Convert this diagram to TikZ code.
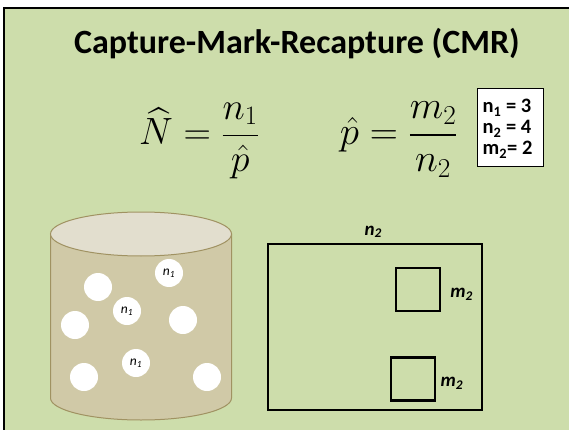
\RequirePackage{fix-cm}
\documentclass[tikz,border=0pt]{standalone}
\usepackage[no-math]{fontspec}
\setmainfont{Carlito}
\usepackage{amsmath,amssymb}
\usepackage{xcolor}
\usepackage{tikz}
\usetikzlibrary{positioning}
\definecolor{panelgreen}{RGB}{205,221,171}
\definecolor{barrelside}{RGB}{208,201,167}
\definecolor{barreltop}{RGB}{226,222,206}
\definecolor{barrelline}{RGB}{160,146,98}
\tikzset{
  rim/.style={draw=black,line width=2pt,line join=miter},
  heading/.style={font=\fontsize{34}{40}\selectfont\bfseries,text=black},
  formula/.style={inner sep=0pt},
  tally/.style={draw=black,fill=white,line width=0.9pt,minimum width=66pt,minimum height=78pt},
  tallyline/.style={font=\fontsize{20.5}{21}\selectfont\bfseries,inner sep=0pt,anchor=base west},
  barrel/.style={draw=barrelline,line width=1pt},
  ball/.style={circle,fill=white,minimum size=28pt,inner sep=0pt,
    font=\fontsize{13.5}{15}\selectfont\itshape},
  sample/.style={draw=black,line width=2.2pt,minimum width=214pt,minimum height=166pt},
  quadrat/.style={draw=black,line width=2.2pt,minimum width=44pt,minimum height=43pt},
  tag/.style={font=\fontsize{19}{21}\selectfont\bfseries\itshape,inner sep=2pt}
}
\begin{document}
\begin{tikzpicture}[x=1pt,y=-1pt]
  \useasboundingbox (0,0) rectangle (569,430);
  \fill[white] (0,0) rectangle (569,430);
  \fill[panelgreen] (4,8) rectangle (569,430);
  \draw[rim] (4,430) -- (4,8) -- (569,8);
  % title and formulas
  \node[heading,anchor=base] (title) at (297,53.3) {Capture-Mark-Recapture (CMR)};
  \node[formula,font=\fontsize{38}{43}\selectfont,anchor=base west] (nhat) at (139,145)
    {$\displaystyle \widehat{N}=\frac{n_1}{\hat{p}}$};
  \node[formula,font=\fontsize{39}{44}\selectfont,anchor=base east] (phat) at (457.7,145)
    {$\displaystyle \hat{p}=\frac{m_2}{n_2}$};
  \node[tally] (vals) at (510,127.2) {};
  \foreach \t [count=\i] in {{n\textsubscript{1} = 3},{n\textsubscript{2} = 4},{m\textsubscript{2}= 2}}
    {\node[tallyline] (line\i) at (482.5,{113+21*(\i-1)}) {\t};}
  % barrel
  \path[barrel,fill=barrelside] (50.5,234) -- (50.5,398)
    arc[start angle=180,end angle=0,x radius=90.5,y radius=22] -- (231.5,234) -- cycle;
  \draw[barrel,fill=barreltop] (141,234) ellipse [x radius=90.5,y radius=22];
  \foreach \bx/\by/\btxt [count=\i] in {98/287/{},169/273/{n\textsubscript{1}},
      127/311/{n\textsubscript{1}},75/325/{},183/320/{},136/363/{n\textsubscript{1}},
      84/377/{},207/377/{}}
    {\node[ball] (ball\i) at (\bx,\by) {\btxt};}
  % sample and quadrats
  \node[sample] (frame) at (375.3,327.2) {};
  \node[tag,above=3pt of frame,xshift=-2pt] (ntwo) {n\textsubscript{2}};
  \node[quadrat] (q1) at (418,289.2) {};
  \node[quadrat] (q2) at (413.3,379) {};
  \node[tag,right=7pt of q1,yshift=-5pt] (mone) {m\textsubscript{2}};
  \node[tag,right=2pt of q2,yshift=-4pt] (mtwo) {m\textsubscript{2}};
\end{tikzpicture}
\end{document}
